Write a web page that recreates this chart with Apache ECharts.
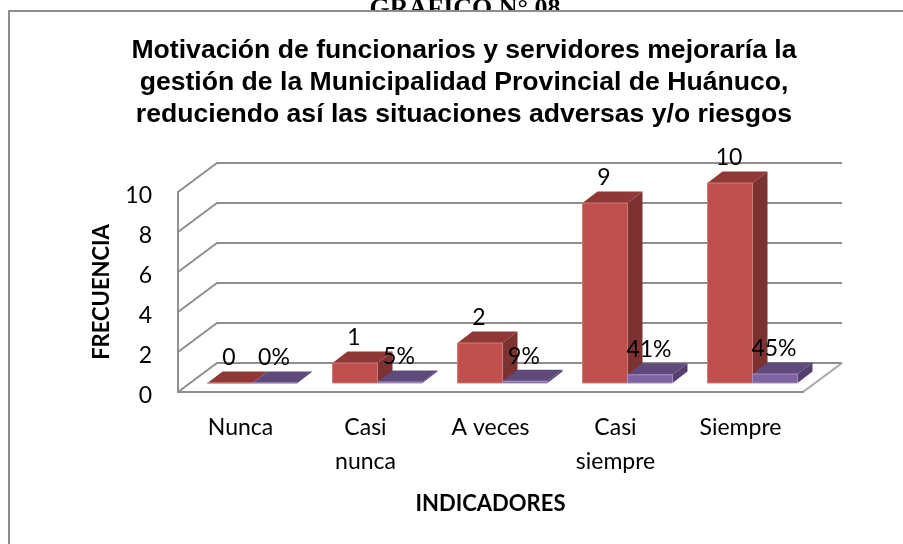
<!DOCTYPE html>
<html>
<head>
<meta charset="utf-8">
<title>Gráfico 08</title>
<style>
html, body { margin: 0; padding: 0; background: #fff; }
#chart { width: 903px; height: 544px; }
</style>
<script src="https://cdn.jsdelivr.net/npm/echarts@6/dist/echarts.min.js"></script>
</head>
<body>
<div id="chart"></div>
<script>
const categories = ["Nunca", "Casi\nnunca", "A veces", "Casi\nsiempre", "Siempre"];
const frecuencia = [0, 1, 2, 9, 10];
const porcentaje = [0, 0.05, 0.09, 0.41, 0.45];
const yTicks = [0, 2, 4, 6, 8, 10];
const titulo = "Motivación de funcionarios y servidores mejoraría la\ngestión de la Municipalidad Provincial de Huánuco,\nreduciendo así las situaciones adversas y/o riesgos";

const FONT = "Lato";
const GRID_COLOR = "#8f8f8f";
// desplazamiento del piso y del fondo respecto al plano frontal
const FLOOR = [12, -9];
const WALL = [39, -29];
const DEPTH = [15, -11.5];
const BAR_RATIO = 0.36;

function poly(points, fill, stroke) {
    return { type: "polygon", shape: { points: points }, style: { fill: fill, stroke: stroke, lineWidth: stroke ? 1 : 0 } };
}

// barra 3d: cara frontal, superior y lateral + etiqueta encima
function barRenderer(side, colors, format) {
    return function (params, api) {
        const cat = api.value(0);
        const val = api.value(1);
        const bw = api.size([1, 0])[0] * BAR_RATIO;
        const t = api.coord([cat, val]);
        const b = api.coord([cat, 0]);
        const x0 = b[0] + FLOOR[0] + (side < 0 ? -bw : 0);
        const x1 = x0 + bw;
        const y0 = b[1] + FLOOR[1];
        const y1 = t[1] + FLOOR[1];
        const dx = DEPTH[0];
        const dy = DEPTH[1];
        return {
            type: "group",
            children: [
                poly([[x1, y0], [x1 + dx, y0 + dy], [x1 + dx, y1 + dy], [x1, y1]], colors.side),
                poly([[x0, y1], [x1, y1], [x1 + dx, y1 + dy], [x0 + dx, y1 + dy]], colors.top),
                poly([[x0, y0], [x1, y0], [x1, y1], [x0, y1]], colors.front, colors.edge),
                {
                    type: "text",
                    style: {
                        x: (x0 + x1) / 2 - 1,
                        y: y1 - 25,
                        text: format(val),
                        fill: "#000",
                        font: "23px " + FONT,
                        align: "center",
                        verticalAlign: "middle",
                    },
                },
            ],
        };
    };
}

// lineas del fondo: cada tick baja en diagonal al plano frontal
function wallRenderer(params, api) {
    const sys = params.coordSys;
    const y = api.coord([0, api.value(1)])[1];
    const left = sys.x;
    const right = sys.x + sys.width;
    const children = [{
        type: "polyline",
        shape: { points: [[left, y], [left + WALL[0], y + WALL[1]], [right + WALL[0], y + WALL[1]]] },
        style: { stroke: GRID_COLOR, lineWidth: 2, fill: null },
    }];
    if (api.value(1) === 0) {
        children.push({
            type: "line",
            shape: { x1: right, y1: y, x2: right + WALL[0], y2: y + WALL[1] },
            style: { stroke: "#a6a6a6", lineWidth: 2 },
        });
    }
    return { type: "group", children: children };
}

const chart = echarts.init(document.getElementById("chart"), null, { renderer: "canvas" });

chart.setOption({
    animation: false,
    backgroundColor: "#fff",
    title: {
        text: titulo,
        left: 459,
        top: 30,
        textAlign: "center",
        textStyle: {
            fontFamily: "Liberation Sans",
            fontWeight: "bold",
            fontSize: 26.6,
            lineHeight: 32,
            color: "#000",
        },
    },
    graphic: [
        {
            type: "text",
            z: 0,
            style: {
                x: 465,
                y: 22,
                text: "GRAFICO N° 08",
                font: "bold 26px 'Liberation Serif'",
                fill: "#000",
                align: "center",
                verticalAlign: "bottom",
            },
        },
        {
            type: "rect",
            z: 1,
            shape: { x: 9, y: 11, width: 900, height: 540 },
            style: { fill: "#fff", stroke: "#8c8c8c", lineWidth: 2 },
        },
    ],
    grid: { left: 178, top: 192, width: 625, height: 200 },
    xAxis: {
        type: "category",
        z: 5,
        data: categories,
        name: "INDICADORES",
        nameLocation: "middle",
        nameGap: 101,
        nameTextStyle: { fontFamily: FONT, fontWeight: "bold", fontSize: 22, color: "#000" },
        axisLine: { lineStyle: { color: GRID_COLOR, width: 2 } },
        axisTick: { show: false },
        axisLabel: { fontFamily: FONT, fontSize: 23, lineHeight: 34, color: "#000", margin: 19, interval: 0 },
    },
    yAxis: {
        type: "value",
        z: 5,
        min: 0,
        max: 10,
        interval: 2,
        name: "FRECUENCIA",
        nameLocation: "middle",
        nameGap: 65,
        nameTextStyle: { fontFamily: FONT, fontWeight: "bold", fontSize: 22, color: "#000" },
        axisLine: { show: true, lineStyle: { color: GRID_COLOR, width: 2 } },
        axisTick: { show: false },
        splitLine: { show: false },
        axisLabel: { fontFamily: FONT, fontSize: 23, color: "#000", margin: 26, verticalAlign: "top", lineHeight: 8 },
    },
    series: [
        {
            type: "custom",
            z: 3,
            silent: true,
            renderItem: wallRenderer,
            encode: { x: 0, y: 1 },
            data: yTicks.map(function (t) { return [0, t]; }),
        },
        {
            type: "custom",
            z: 6,
            renderItem: barRenderer(-1, { front: "#c0504d", top: "#8f3836", side: "#7c3230", edge: "#cf7c79" }, function (v) { return String(v); }),
            encode: { x: 0, y: 1 },
            data: frecuencia.map(function (v, i) { return [i, v]; }),
        },
        {
            type: "custom",
            z: 7,
            renderItem: barRenderer(1, { front: "#8064a2", top: "#604a7b", side: "#553f70", edge: "#a58fbf" }, function (v) { return Math.round(v * 100) + "%"; }),
            encode: { x: 0, y: 1 },
            data: porcentaje.map(function (v, i) { return [i, v]; }),
        },
    ],
});
</script>
</body>
</html>
